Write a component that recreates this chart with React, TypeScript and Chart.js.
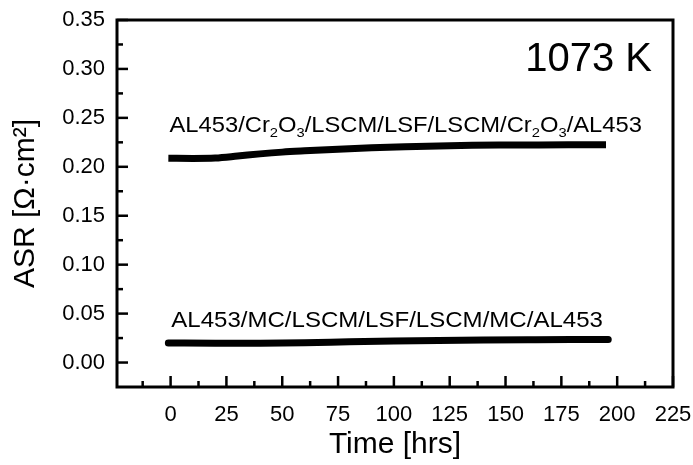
import { useEffect, useRef } from "react";
import { Chart, registerables } from "chart.js";
Chart.register(...registerables);

// ---- data ----
const timeCr2O3 = [-1, 10, 20, 30, 40, 50, 60, 75, 90, 105, 120, 135, 150, 165, 180, 195];
const asrCr2O3 = [0.2088, 0.2086, 0.209, 0.211, 0.2132, 0.2150, 0.2163, 0.218, 0.2194, 0.2205, 0.2213, 0.2219, 0.2222, 0.2224, 0.2225, 0.2225];
const timeMC = [-1, 20, 40, 60, 80, 100, 120, 140, 160, 180, 196];
const asrMC = [0.02, 0.0198, 0.0198, 0.0202, 0.0212, 0.022, 0.0226, 0.023, 0.0233, 0.0235, 0.0235];

const xTickStep = 25;
const yTickStep = 0.05;
const xRange = [-24, 225];
const yRange = [-0.025, 0.35];

const xTitle = "Time [hrs]";
const yTitle = "ASR [Ω·cm²]";
const tempLabel = "1073 K";
// label parts: [text, isSubscript]
const labelCr2O3: [string, boolean][] = [
  ["AL453/Cr", false], ["2", true], ["O", false], ["3", true],
  ["/LSCM/LSF/LSCM/Cr", false], ["2", true], ["O", false], ["3", true], ["/AL453", false],
];
const labelMC: [string, boolean][] = [["AL453/MC/LSCM/LSF/LSCM/MC/AL453", false]];
const labelAnchorX = [-0.5, 0.3];
const labelAnchorY = [0.2357, 0.0367];

const FONT = "'Liberation Sans', Arial, Helvetica, sans-serif";

function drawRich(ctx: CanvasRenderingContext2D, parts: [string, boolean][], x: number, y: number, size: number, sx: number) {
  ctx.save();
  ctx.translate(x, y);
  ctx.scale(sx, 1);
  let cx = 0;
  ctx.textBaseline = "alphabetic";
  ctx.textAlign = "left";
  for (const [t, sub] of parts) {
    const s = sub ? size * 0.62 : size;
    ctx.font = `${s}px ${FONT}`;
    ctx.fillText(t, cx, sub ? size * 0.22 : 0);
    cx += ctx.measureText(t).width;
  }
  ctx.restore();
}

const decor = {
  id: "decor",
  afterDraw(chart: any) {
    const { ctx, chartArea: a, scales } = chart;
    const xs = scales.x, ys = scales.y;
    ctx.save();
    ctx.strokeStyle = "#000";
    ctx.fillStyle = "#000";
    ctx.lineCap = "butt";
    const seg = (x1: number, y1: number, x2: number, y2: number) => {
      ctx.beginPath(); ctx.moveTo(x1, y1); ctx.lineTo(x2, y2); ctx.stroke();
    };
    ctx.lineWidth = 2.5;
    const MAJ = 11, MIN = 6;
    const xt = xs.ticks.map((t: any) => t.value);
    xt.forEach((v: number) => {
      const px = xs.getPixelForValue(v);
      seg(px, a.bottom, px, a.bottom - MAJ);
      const mv = v - xTickStep / 2;
      if (mv > xs.min + 1e-9) { const mp = xs.getPixelForValue(mv); seg(mp, a.bottom, mp, a.bottom - MIN); }
    });
    const yt = ys.ticks.map((t: any) => t.value);
    yt.forEach((v: number) => {
      const py = ys.getPixelForValue(v);
      seg(a.left, py, a.left + MAJ, py);
      const mv = v - yTickStep / 2;
      if (mv > ys.min + 1e-9) { const mp = ys.getPixelForValue(mv); seg(a.left, mp, a.left + MIN, mp); }
    });
    ctx.lineWidth = 3;
    ctx.strokeRect(a.left, a.top, a.right - a.left, a.bottom - a.top);

    // annotations
    drawRich(ctx, labelCr2O3, xs.getPixelForValue(labelAnchorX[0]), ys.getPixelForValue(labelAnchorY[0]), 22, 1.08);
    drawRich(ctx, labelMC, xs.getPixelForValue(labelAnchorX[1]), ys.getPixelForValue(labelAnchorY[1]), 22, 1.093);
    ctx.font = `40px ${FONT}`;
    ctx.textAlign = "right";
    ctx.textBaseline = "alphabetic";
    ctx.fillText(tempLabel, a.right - 21, a.top + 51);
    ctx.restore();
  },
};

export default function App() {
  const ref = useRef<HTMLCanvasElement>(null);
  useEffect(() => {
    if (!ref.current) return;
    const chart = new Chart(ref.current, {
      type: "line",
      data: {
        datasets: [
          {
            data: timeCr2O3.map((t, i) => ({ x: t, y: asrCr2O3[i] })),
            borderColor: "#000",
            borderWidth: 7,
            pointRadius: 0,
            cubicInterpolationMode: "monotone",
            borderCapStyle: "butt",
          },
          {
            data: timeMC.map((t, i) => ({ x: t, y: asrMC[i] })),
            borderColor: "#000",
            borderWidth: 7,
            pointRadius: 0,
            cubicInterpolationMode: "monotone",
            borderCapStyle: "round",
          },
        ],
      },
      options: {
        responsive: false,
        animation: false,
        layout: { padding: { top: 20, right: 20, left: 0, bottom: 0 } },
        plugins: { legend: { display: false }, tooltip: { enabled: false } },
        scales: {
          x: {
            type: "linear",
            min: xRange[0],
            max: xRange[1],
            grid: { display: false, drawTicks: false },
            border: { display: false },
            ticks: {
              stepSize: xTickStep,
              includeBounds: false,
              padding: 15,
              color: "#000",
              maxRotation: 0,
              autoSkip: false,
              font: { family: FONT, size: 22 },
              callback: (v: any) => String(v),
            },
            title: { display: true, text: xTitle, color: "#000", font: { family: FONT, size: 30 }, padding: { top: 0, bottom: 2 } },
            afterFit: (s: any) => { s.height = 78; s.paddingLeft = 0; s.paddingRight = 0; },
          },
          y: {
            type: "linear",
            min: yRange[0],
            max: yRange[1],
            grid: { display: false, drawTicks: false },
            border: { display: false },
            ticks: {
              stepSize: yTickStep,
              includeBounds: false,
              padding: 12,
              color: "#000",
              autoSkip: false,
              font: { family: FONT, size: 22 },
              callback: (v: any) => Number(v).toFixed(2),
            },
            title: { display: true, text: yTitle, color: "#000", font: { family: FONT, size: 30 }, padding: { top: 8, bottom: 0 } },
            afterFit: (s: any) => { s.width = 117; s.paddingTop = 0; s.paddingBottom = 0; },
          },
        },
      },
      plugins: [decor],
    } as any);
    return () => chart.destroy();
  }, []);
  return (
    <div style={{ position: "absolute", left: 0, top: 0, width: 693, height: 465, background: "#fff" }}>
      <canvas ref={ref} width={693} height={465} style={{ display: "block" }} />
    </div>
  );
}
